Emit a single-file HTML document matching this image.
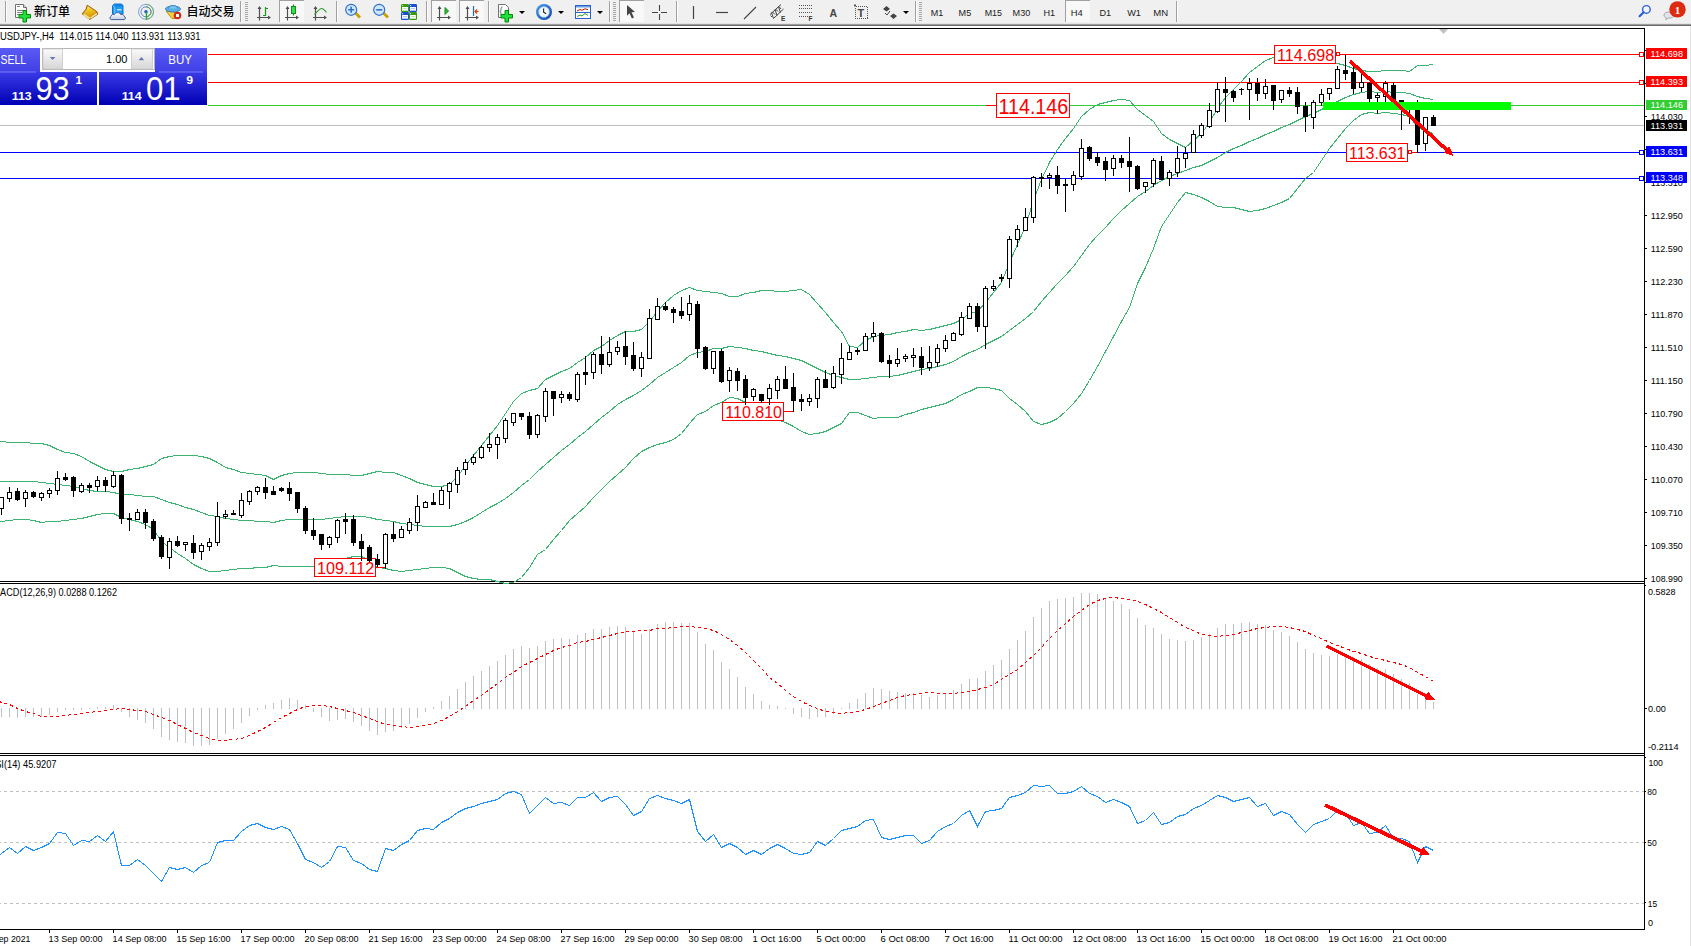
<!DOCTYPE html><html><head><meta charset="utf-8"><title>USDJPY-,H4</title><style>html,body{margin:0;padding:0;background:#fff;overflow:hidden;width:1691px;height:946px}svg{display:block}text{font-family:"Liberation Sans","Noto Sans CJK SC",sans-serif}</style></head><body>
<svg width="1691" height="946" viewBox="0 0 1691 946">
<rect x="0" y="0" width="1691" height="946" fill="#fff"/>
<rect x="0" y="0" width="1691" height="24" fill="#f0f0f0"/><rect x="0" y="23" width="1691" height="1" fill="#e4e4e4"/><rect x="0" y="24" width="1691" height="1" fill="#9c9c9c"/><rect x="0" y="25" width="1691" height="1" fill="#6a6a6a"/><rect x="5" y="1" width="1" height="21" fill="#a0a0a0"/><rect x="6" y="1" width="1" height="21" fill="#fff"/><path d="M15.5 4.5h8l3 3v10h-11z" fill="#fff" stroke="#707070"/><path d="M23.5 4.5v3h3" fill="#e0e0e0" stroke="#707070"/><path d="M17 6.5h3M17 10.5h6M17 12.5h5M17 14.5h2" stroke="#808080"/><path d="M23 10.5h3.5v4h4v3.5h-4v4h-3.5v-4h-4v-3.5h4z" fill="#20e040" stroke="#008a00"/><text x="34" y="15.5" font-size="12" font-weight="500" fill="#000" style="font-family:"Noto Sans CJK SC","WenQuanYi Zen Hei",sans-serif">新订单</text><defs><linearGradient id="bk" x1="0.3" y1="0" x2="0.6" y2="1"><stop offset="0" stop-color="#fff0a0"/><stop offset="0.35" stop-color="#f2c820"/><stop offset="1" stop-color="#d89c08"/></linearGradient><linearGradient id="cl" x1="0" y1="0" x2="0" y2="1"><stop offset="0" stop-color="#ffffff"/><stop offset="1" stop-color="#c8d0e0"/></linearGradient></defs><path d="M87.2 5.2L96.8 11.6L97.8 14.2L89.8 19.4L82.2 13.9L86.2 9Z" fill="#d8a010" stroke="#985808" stroke-width="1" stroke-linejoin="round"/><path d="M87.8 6.2L95.8 11.6L89.6 16.3L84 12.6L86.9 9.2Z" fill="url(#bk)"/><path d="M83.6 14.2L89.6 18.4" stroke="#f7df98" stroke-width="1.8"/><path d="M90.6 18.1L96.9 13.6" stroke="#f1e4b4" stroke-width="1.3"/><path d="M112.5 5.5l2-1.5h7l1.5 1.5v8.5h-10.5z" fill="#1a9af2" stroke="#0c72cc"/><path d="M112.8 5.6l2 2.2v6" fill="none" stroke="#8ccaf8" stroke-width="1"/><path d="M115 5.6h7.5" stroke="#0c72cc" stroke-width="0.8"/><path d="M117 9.8h4.5" stroke="#e8f4ff" stroke-width="1.2"/><path d="M111.3 19.6c-1.6 0-1.8-2.8-.2-3.3c.2-1.8 2-2.4 3.3-1.6c.8-2.6 5.2-2.9 6.3-.1c1.6-.6 3.3.4 3.4 1.7c1.6.3 1.8 2.9.1 3.3z" fill="url(#cl)" stroke="#3e5f9e" stroke-width="1"/><g fill="none" stroke-width="1"><circle cx="146" cy="11.8" r="7.5" stroke="#7f9fd8"/><circle cx="146" cy="11.8" r="5" stroke="#5f86d0"/><path d="M146 4.3a7.5 7.5 0 0 1 0 15" stroke="#6fb070"/><path d="M146 6.8a5 5 0 0 1 0 10" stroke="#5aa05a"/></g><circle cx="146" cy="11.8" r="1.8" fill="#2a5cc8"/><path d="M146.5 12v7.5" stroke="#22aa22" stroke-width="1.4"/><path d="M166 11l6 7.5h5l2-6z" fill="#f3d040" stroke="#c89000"/><ellipse cx="173" cy="9" rx="7.5" ry="3" fill="#5bb0e8" stroke="#3a86c0"/><path d="M168.5 8.5c0-4 9-4 9 0" fill="#7cc6f2" stroke="#3a86c0"/><circle cx="177.5" cy="15.5" r="3.8" fill="#d42a14"/><rect x="176" y="14" width="3" height="3" fill="#fff"/><text x="186.5" y="15.5" font-size="12" font-weight="500" fill="#000" style="font-family:"Noto Sans CJK SC","WenQuanYi Zen Hei",sans-serif">自动交易</text><rect x="240" y="1" width="1" height="21" fill="#a0a0a0"/><rect x="241" y="1" width="1" height="21" fill="#fff"/><rect x="245" y="2" width="3" height="1" fill="#a8a8a8"/><rect x="245" y="4" width="3" height="1" fill="#a8a8a8"/><rect x="245" y="6" width="3" height="1" fill="#a8a8a8"/><rect x="245" y="8" width="3" height="1" fill="#a8a8a8"/><rect x="245" y="10" width="3" height="1" fill="#a8a8a8"/><rect x="245" y="12" width="3" height="1" fill="#a8a8a8"/><rect x="245" y="14" width="3" height="1" fill="#a8a8a8"/><rect x="245" y="16" width="3" height="1" fill="#a8a8a8"/><rect x="245" y="18" width="3" height="1" fill="#a8a8a8"/><rect x="245" y="20" width="3" height="1" fill="#a8a8a8"/><g stroke="#505050" stroke-width="1.2" fill="none"><path d="M259.5 20.5V7.0 M257.0 17.5H270.0"/></g><path d="M259.5 6.0l-2 3h4z M271.0 17.5l-3 -2v4z" fill="#505050"/><path d="M265.5 7v9M263 15.5h2.5M265.5 8.5h2.5" stroke="#1a9a1a" stroke-width="1.2" fill="none"/><rect x="279" y="0" width="25" height="22" fill="#f8f8f8"/><rect x="279" y="0" width="1" height="22" fill="#a0a0a0"/><rect x="279" y="0" width="25" height="1" fill="#a0a0a0"/><g stroke="#505050" stroke-width="1.2" fill="none"><path d="M287.5 20.5V7.0 M285.0 17.5H298.0"/></g><path d="M287.5 6.0l-2 3h4z M299.0 17.5l-3 -2v4z" fill="#505050"/><path d="M293.5 4.5v11" stroke="#1a8a1a" stroke-width="1.2"/><rect x="291.5" y="6.5" width="4" height="7" fill="#30e050" stroke="#1a8a1a"/><g stroke="#505050" stroke-width="1.2" fill="none"><path d="M315.5 20.5V7.0 M313.0 17.5H326.0"/></g><path d="M315.5 6.0l-2 3h4z M327.0 17.5l-3 -2v4z" fill="#505050"/><path d="M314.5 14.5c3-3 5-6 7-6c2 0 3 2 5 3.8" fill="none" stroke="#2a9a2a" stroke-width="1.1"/><rect x="336" y="1" width="1" height="21" fill="#a0a0a0"/><rect x="337" y="1" width="1" height="21" fill="#fff"/><path d="M355.0 12.5l5 5" stroke="#c8a000" stroke-width="2.8"/><circle cx="351.2" cy="9.8" r="5.5" fill="#cfe6fb" stroke="#2f72cc" stroke-width="1.2"/><path d="M348.2 9.8h6M351.2 6.8v6" stroke="#2f72cc" stroke-width="1.6"/><path d="M383.0 12.5l5 5" stroke="#c8a000" stroke-width="2.8"/><circle cx="379.2" cy="9.8" r="5.5" fill="#cfe6fb" stroke="#2f72cc" stroke-width="1.2"/><path d="M376.2 9.8h6" stroke="#2f72cc" stroke-width="1.6"/><rect x="401" y="4" width="8" height="8" rx="1.2" fill="#3a9a10"/><circle cx="402.6" cy="5.6" r="0.6" fill="#e8f0ff"/><rect x="402.1" y="7.0" width="5.8" height="3.8" fill="#fff"/><path d="M403.2 8.6h3.6" stroke="#a8d890" stroke-width="0.8"/><path d="M403.2 10.4h3.6" stroke="#a8d890" stroke-width="0.6"/><rect x="409" y="4" width="8" height="8" rx="1.2" fill="#1a4fd0"/><circle cx="410.6" cy="5.6" r="0.6" fill="#e8f0ff"/><rect x="410.1" y="7.0" width="5.8" height="3.8" fill="#fff"/><path d="M411.2 8.6h3.6" stroke="#90a8e8" stroke-width="0.8"/><path d="M411.2 10.4h3.6" stroke="#90a8e8" stroke-width="0.6"/><rect x="401" y="12" width="8" height="8" rx="1.2" fill="#1a4fd0"/><circle cx="402.6" cy="13.6" r="0.6" fill="#e8f0ff"/><rect x="402.1" y="15.0" width="5.8" height="3.8" fill="#fff"/><path d="M403.2 16.6h3.6" stroke="#90a8e8" stroke-width="0.8"/><path d="M403.2 18.4h3.6" stroke="#90a8e8" stroke-width="0.6"/><rect x="409" y="12" width="8" height="8" rx="1.2" fill="#3a9a10"/><circle cx="410.6" cy="13.6" r="0.6" fill="#e8f0ff"/><rect x="410.1" y="15.0" width="5.8" height="3.8" fill="#fff"/><path d="M411.2 16.6h3.6" stroke="#a8d890" stroke-width="0.8"/><path d="M411.2 18.4h3.6" stroke="#a8d890" stroke-width="0.6"/><rect x="426" y="1" width="1" height="21" fill="#a0a0a0"/><rect x="427" y="1" width="1" height="21" fill="#fff"/><rect x="431" y="0" width="25" height="22" fill="#f8f8f8"/><rect x="431" y="0" width="1" height="22" fill="#a0a0a0"/><rect x="431" y="0" width="25" height="1" fill="#a0a0a0"/><g stroke="#505050" stroke-width="1.2" fill="none"><path d="M439.5 20.5V7.0 M437.0 17.5H450.0"/></g><path d="M439.5 6.0l-2 3h4z M451.0 17.5l-3 -2v4z" fill="#505050"/><path d="M445 7.5l3.5 3.5l-3.5 3.5z" fill="#2eb82e" stroke="#1a8a1a"/><rect x="459" y="0" width="25" height="22" fill="#f8f8f8"/><rect x="459" y="0" width="1" height="22" fill="#a0a0a0"/><rect x="459" y="0" width="25" height="1" fill="#a0a0a0"/><g stroke="#505050" stroke-width="1.2" fill="none"><path d="M467.5 20.5V7.0 M465.0 17.5H478.0"/></g><path d="M467.5 6.0l-2 3h4z M479.0 17.5l-3 -2v4z" fill="#505050"/><path d="M473.5 6v10" stroke="#1e6fb0" stroke-width="1.2"/><path d="M474.5 11.5h4M475 11.5l2-2M475 11.5l2 2" stroke="#e04000" stroke-width="1.2"/><rect x="488" y="1" width="1" height="21" fill="#a0a0a0"/><rect x="489" y="1" width="1" height="21" fill="#fff"/><path d="M498.5 4.5h7l3 3v10h-10z" fill="#fff" stroke="#707070"/><path d="M502.5 7c-1.5 0-1.5 1-1.5 2.5s-.8 2-1.2 2c.4 0 1.2.5 1.2 2s0 2.5 1.5 2.5" stroke="#555" fill="none" stroke-width="0.9"/><path d="M505 10.5h3.5v4h4v3.5h-4v4h-3.5v-4h-4v-3.5h4z" fill="#20e040" stroke="#008a00"/><path d="M519 11h6l-3 3z" fill="#000"/><defs><linearGradient id="ck" x1="0" y1="0" x2="1" y2="1"><stop offset="0" stop-color="#4aa0f0"/><stop offset="1" stop-color="#0a3fa8"/></linearGradient></defs><circle cx="544" cy="12" r="8" fill="url(#ck)"/><circle cx="544" cy="12" r="5.4" fill="#f4f8ff" stroke="#9cc0ec" stroke-width="0.6"/><path d="M544 7.6v.8M544 15.6v.8M548.4 12h-.8M539.6 12h.8" stroke="#8aa" stroke-width="0.7"/><path d="M543.6 8.6v3.6l2.6 1.6" stroke="#222" stroke-width="1.1" fill="none"/><path d="M558 11h6l-3 3z" fill="#000"/><rect x="575.5" y="5.5" width="15" height="13" fill="#fff" stroke="#2a60c8"/><rect x="576" y="6" width="14" height="1.5" fill="#6aa0e8"/><path d="M576 12.5h14" stroke="#2a60c8"/><path d="M577 11l3-1.5l2 .8l3-1.5l3 .8" stroke="#b02000" fill="none"/><path d="M577 16.5l3-1.5l2 1l3-2.5l3 2" stroke="#20a020" fill="none"/><path d="M597 11h6l-3 3z" fill="#000"/><rect x="609" y="1" width="1" height="21" fill="#a0a0a0"/><rect x="610" y="1" width="1" height="21" fill="#fff"/><rect x="613" y="2" width="3" height="1" fill="#a8a8a8"/><rect x="613" y="4" width="3" height="1" fill="#a8a8a8"/><rect x="613" y="6" width="3" height="1" fill="#a8a8a8"/><rect x="613" y="8" width="3" height="1" fill="#a8a8a8"/><rect x="613" y="10" width="3" height="1" fill="#a8a8a8"/><rect x="613" y="12" width="3" height="1" fill="#a8a8a8"/><rect x="613" y="14" width="3" height="1" fill="#a8a8a8"/><rect x="613" y="16" width="3" height="1" fill="#a8a8a8"/><rect x="613" y="18" width="3" height="1" fill="#a8a8a8"/><rect x="613" y="20" width="3" height="1" fill="#a8a8a8"/><rect x="619" y="0" width="25" height="22" fill="#f8f8f8"/><rect x="619" y="0" width="1" height="22" fill="#a0a0a0"/><rect x="619" y="0" width="25" height="1" fill="#a0a0a0"/><path d="M627 5l8 7l-3.5 .3l2.4 5.2l-2 1l-2.4-5.2l-2.5 2.5z" fill="#444"/><path d="M652 12.5h6M661 12.5h6M659.5 5v6M659.5 14v6" stroke="#444" stroke-width="1.1"/><rect x="676" y="1" width="1" height="21" fill="#a0a0a0"/><rect x="677" y="1" width="1" height="21" fill="#fff"/><path d="M693.5 6v13" stroke="#444" stroke-width="1.2"/><path d="M716 12.5h12" stroke="#444" stroke-width="1.2"/><path d="M744 19l12-12" stroke="#444" stroke-width="1.1"/><path d="M770 14.5l11-10M773.5 18.5l10-9.5M772 17l-1.5-1.5M775 14.5l-2.5-2.5M778 11.5l-2.5-2.5M781 9l-2-2.5M771.5 12.5l2 6M775 9.5l2 6M778.5 7l2 5.5" stroke="#444" stroke-width="1" fill="none"/><text x="781" y="20.5" font-size="6.5" font-weight="bold" fill="#333">E</text><path d="M799 5.5h13M799 8.5h13M799 12.5h13M799 16.5h10" stroke="#555" stroke-dasharray="1 1" fill="none" shape-rendering="crispEdges"/><text x="808.5" y="20.5" font-size="6.5" font-weight="bold" fill="#333">F</text><text x="829.5" y="17" font-size="10.5" font-weight="bold" fill="#444">A</text><rect x="855.5" y="6.5" width="12" height="12" fill="none" stroke="#555" stroke-dasharray="1 1" shape-rendering="crispEdges"/><rect x="854" y="4.5" width="2" height="2" fill="#555"/><text x="857.5" y="17" font-size="11" font-weight="bold" fill="#444">T</text><path d="M883 9l3.5-3l3.5 3l-3.5 2.5z M890 16l3.5-2.5l3.5 2.5l-3.5 3z" fill="#444"/><path d="M885 13l2 2l3-4" stroke="#444" fill="none"/><path d="M903 11h6l-3 3z" fill="#000"/><rect x="915" y="1" width="1" height="21" fill="#a0a0a0"/><rect x="916" y="1" width="1" height="21" fill="#fff"/><rect x="919" y="2" width="3" height="1" fill="#a8a8a8"/><rect x="919" y="4" width="3" height="1" fill="#a8a8a8"/><rect x="919" y="6" width="3" height="1" fill="#a8a8a8"/><rect x="919" y="8" width="3" height="1" fill="#a8a8a8"/><rect x="919" y="10" width="3" height="1" fill="#a8a8a8"/><rect x="919" y="12" width="3" height="1" fill="#a8a8a8"/><rect x="919" y="14" width="3" height="1" fill="#a8a8a8"/><rect x="919" y="16" width="3" height="1" fill="#a8a8a8"/><rect x="919" y="18" width="3" height="1" fill="#a8a8a8"/><rect x="919" y="20" width="3" height="1" fill="#a8a8a8"/><rect x="1065" y="0" width="25" height="22" fill="#f8f8f8"/><rect x="1065" y="0" width="1" height="22" fill="#a0a0a0"/><rect x="1065" y="0" width="25" height="1" fill="#a0a0a0"/><text x="930.8" y="16" font-size="9.4" fill="#222" textLength="12.5" lengthAdjust="spacingAndGlyphs">M1</text><text x="958.6" y="16" font-size="9.4" fill="#222" textLength="12.6" lengthAdjust="spacingAndGlyphs">M5</text><text x="984.7" y="16" font-size="9.4" fill="#222" textLength="17.3" lengthAdjust="spacingAndGlyphs">M15</text><text x="1012.6" y="16" font-size="9.4" fill="#222" textLength="17.7" lengthAdjust="spacingAndGlyphs">M30</text><text x="1043.4" y="16" font-size="9.4" fill="#222" textLength="11.7" lengthAdjust="spacingAndGlyphs">H1</text><text x="1070.8" y="16" font-size="9.4" fill="#222" textLength="12.0" lengthAdjust="spacingAndGlyphs">H4</text><text x="1099.5" y="16" font-size="9.4" fill="#222" textLength="11.7" lengthAdjust="spacingAndGlyphs">D1</text><text x="1127.2" y="16" font-size="9.4" fill="#222" textLength="13.8" lengthAdjust="spacingAndGlyphs">W1</text><text x="1153.3" y="16" font-size="9.4" fill="#222" textLength="14.9" lengthAdjust="spacingAndGlyphs">MN</text><rect x="1176" y="1" width="1" height="21" fill="#a0a0a0"/><rect x="1177" y="1" width="1" height="21" fill="#fff"/><circle cx="1646.4" cy="9.4" r="3.8" fill="#f4f6ff" stroke="#2a5fd8" stroke-width="1.4"/><path d="M1643.6 12.2l-4 4" stroke="#2a5fd8" stroke-width="2.2" stroke-linecap="round"/><path d="M1664 15c0-4 10-4 10 0c0 2.5-3 3.2-6 3l-2 2v-2.3c-1.5-.5-2-1.5-2-2.7z" fill="#e2e4ee" stroke="#a8a8a8"/><circle cx="1677.5" cy="9.4" r="8.2" fill="#dd2a10"/><text x="1677.5" y="14" font-size="11" font-weight="bold" fill="#fff" text-anchor="middle" style="font-family:'Liberation Serif',serif">1</text>
<g shape-rendering="crispEdges" fill="none" stroke="#000" stroke-width="1">
<path d="M0 28.5H1644.5V929.5H0M0 581.5H1644.5M0 583.5H1644.5M0 753.5H1644.5M0 755.5H1644.5"/>
</g>
<rect x="1690" y="26" width="1" height="920" fill="#e3e3e3"/>
<g shape-rendering="crispEdges" stroke-width="1" fill="none">
<path d="M0 54.5H1644" stroke="#f00"/>
<path d="M0 82.5H1644" stroke="#f00"/>
<path d="M0 105.5H986" stroke="#32cd32"/><path d="M1070 105.5H1644" stroke="#32cd32"/><path d="M986 105.5H996" stroke="#f00"/>
<path d="M0 125.5H1644" stroke="#c0c0c0"/>
<path d="M0 152.5H1644" stroke="#00f"/>
<path d="M0 178.5H1644" stroke="#00f"/>
</g>
<g shape-rendering="crispEdges">
<polyline points="-6.5,440.5 1.5,441.5 9.5,442.5 17.5,442.5 25.5,442.5 33.5,443.5 41.5,443.5 49.5,445.5 57.5,449.5 65.5,452.5 73.5,453.5 81.5,456.5 89.5,461.5 97.5,465.5 105.5,469.5 113.5,471.5 121.5,471.5 129.5,469.5 137.5,468.5 145.5,466.5 153.5,464.5 161.5,458.5 169.5,456.5 177.5,455.5 185.5,455.5 193.5,455.5 201.5,456.5 209.5,458.5 217.5,462.5 225.5,467.5 233.5,469.5 241.5,472.5 249.5,473.5 257.5,474.5 265.5,475.5 273.5,479.5 281.5,475.5 289.5,473.5 297.5,472.5 305.5,472.5 313.5,472.5 321.5,473.5 329.5,474.5 337.5,474.5 345.5,474.5 353.5,475.5 361.5,475.5 369.5,473.5 377.5,471.5 385.5,472.5 393.5,472.5 401.5,475.5 409.5,478.5 417.5,482.5 425.5,484.5 433.5,486.5 441.5,486.5 449.5,484.5 457.5,476.5 465.5,465.5 473.5,455.5 481.5,445.5 489.5,435.5 497.5,425.5 505.5,413.5 513.5,401.5 521.5,393.5 529.5,390.5 537.5,388.5 545.5,379.5 553.5,375.5 561.5,371.5 569.5,368.5 577.5,362.5 585.5,357.5 593.5,350.5 601.5,346.5 609.5,340.5 617.5,335.5 625.5,331.5 633.5,331.5 641.5,329.5 649.5,321.5 657.5,311.5 665.5,302.5 673.5,295.5 681.5,290.5 689.5,287.5 697.5,290.5 705.5,291.5 713.5,292.5 721.5,293.5 729.5,296.5 737.5,296.5 745.5,293.5 753.5,292.5 761.5,290.5 769.5,290.5 777.5,291.5 785.5,291.5 793.5,290.5 801.5,289.5 809.5,294.5 817.5,303.5 825.5,312.5 833.5,322.5 841.5,331.5 849.5,346.5 857.5,347.5 865.5,340.5 873.5,336.5 881.5,335.5 889.5,334.5 897.5,332.5 905.5,331.5 913.5,329.5 921.5,330.5 929.5,329.5 937.5,327.5 945.5,325.5 953.5,323.5 961.5,319.5 969.5,313.5 977.5,311.5 985.5,302.5 993.5,292.5 1001.5,282.5 1009.5,262.5 1017.5,244.5 1025.5,226.5 1033.5,200.5 1041.5,179.5 1049.5,162.5 1057.5,149.5 1065.5,138.5 1073.5,128.5 1081.5,116.5 1089.5,109.5 1097.5,104.5 1105.5,102.5 1113.5,100.5 1121.5,99.5 1129.5,100.5 1137.5,109.5 1145.5,115.5 1153.5,121.5 1161.5,133.5 1169.5,139.5 1177.5,143.5 1185.5,147.5 1193.5,140.5 1201.5,133.5 1209.5,122.5 1217.5,108.5 1225.5,97.5 1233.5,89.5 1241.5,81.5 1249.5,72.5 1257.5,66.5 1265.5,60.5 1273.5,57.5 1281.5,52.5 1289.5,50.5 1297.5,51.5 1305.5,54.5 1313.5,55.5 1321.5,58.5 1329.5,62.5 1337.5,63.5 1345.5,65.5 1353.5,68.5 1361.5,70.5 1369.5,71.5 1377.5,71.5 1385.5,70.5 1393.5,70.5 1401.5,70.5 1409.5,71.5 1417.5,65.5 1425.5,65.5 1433.5,64.5" fill="none" stroke="#3cb371" stroke-width="1" />
<polyline points="-6.5,481.5 1.5,481.5 9.5,481.5 17.5,481.5 25.5,481.5 33.5,481.5 41.5,482.5 49.5,483.5 57.5,484.5 65.5,485.5 73.5,486.5 81.5,488.5 89.5,490.5 97.5,491.5 105.5,491.5 113.5,492.5 121.5,494.5 129.5,494.5 137.5,495.5 145.5,496.5 153.5,496.5 161.5,499.5 169.5,502.5 177.5,504.5 185.5,507.5 193.5,509.5 201.5,512.5 209.5,515.5 217.5,516.5 225.5,518.5 233.5,519.5 241.5,520.5 249.5,520.5 257.5,521.5 265.5,521.5 273.5,522.5 281.5,520.5 289.5,519.5 297.5,519.5 305.5,519.5 313.5,519.5 321.5,519.5 329.5,518.5 337.5,517.5 345.5,516.5 353.5,516.5 361.5,516.5 369.5,517.5 377.5,519.5 385.5,520.5 393.5,521.5 401.5,523.5 409.5,524.5 417.5,525.5 425.5,526.5 433.5,526.5 441.5,526.5 449.5,526.5 457.5,524.5 465.5,521.5 473.5,517.5 481.5,512.5 489.5,507.5 497.5,503.5 505.5,498.5 513.5,492.5 521.5,485.5 529.5,479.5 537.5,471.5 545.5,464.5 553.5,457.5 561.5,450.5 569.5,444.5 577.5,437.5 585.5,431.5 593.5,424.5 601.5,417.5 609.5,411.5 617.5,404.5 625.5,399.5 633.5,395.5 641.5,390.5 649.5,384.5 657.5,377.5 665.5,372.5 673.5,367.5 681.5,362.5 689.5,355.5 697.5,352.5 705.5,351.5 713.5,348.5 721.5,348.5 729.5,346.5 737.5,347.5 745.5,348.5 753.5,350.5 761.5,351.5 769.5,353.5 777.5,355.5 785.5,356.5 793.5,358.5 801.5,360.5 809.5,364.5 817.5,368.5 825.5,372.5 833.5,375.5 841.5,377.5 849.5,379.5 857.5,379.5 865.5,378.5 873.5,377.5 881.5,376.5 889.5,376.5 897.5,375.5 905.5,373.5 913.5,371.5 921.5,369.5 929.5,368.5 937.5,366.5 945.5,364.5 953.5,361.5 961.5,356.5 969.5,352.5 977.5,349.5 985.5,344.5 993.5,340.5 1001.5,336.5 1009.5,330.5 1017.5,324.5 1025.5,318.5 1033.5,311.5 1041.5,301.5 1049.5,292.5 1057.5,283.5 1065.5,275.5 1073.5,266.5 1081.5,255.5 1089.5,244.5 1097.5,235.5 1105.5,227.5 1113.5,218.5 1121.5,210.5 1129.5,203.5 1137.5,196.5 1145.5,191.5 1153.5,185.5 1161.5,180.5 1169.5,176.5 1177.5,173.5 1185.5,170.5 1193.5,167.5 1201.5,165.5 1209.5,161.5 1217.5,157.5 1225.5,152.5 1233.5,148.5 1241.5,145.5 1249.5,141.5 1257.5,138.5 1265.5,134.5 1273.5,131.5 1281.5,127.5 1289.5,124.5 1297.5,120.5 1305.5,116.5 1313.5,113.5 1321.5,109.5 1329.5,105.5 1337.5,101.5 1345.5,97.5 1353.5,94.5 1361.5,92.5 1369.5,91.5 1377.5,92.5 1385.5,91.5 1393.5,92.5 1401.5,92.5 1409.5,93.5 1417.5,96.5 1425.5,98.5 1433.5,99.5" fill="none" stroke="#3cb371" stroke-width="1" />
<polyline points="-6.5,522.5 1.5,521.5 9.5,520.5 17.5,519.5 25.5,519.5 33.5,520.5 41.5,522.5 49.5,521.5 57.5,521.5 65.5,520.5 73.5,519.5 81.5,518.5 89.5,516.5 97.5,514.5 105.5,513.5 113.5,513.5 121.5,517.5 129.5,519.5 137.5,521.5 145.5,524.5 153.5,529.5 161.5,541.5 169.5,547.5 177.5,553.5 185.5,558.5 193.5,564.5 201.5,568.5 209.5,571.5 217.5,571.5 225.5,570.5 233.5,569.5 241.5,568.5 249.5,568.5 257.5,567.5 265.5,567.5 273.5,565.5 281.5,566.5 289.5,566.5 297.5,566.5 305.5,566.5 313.5,566.5 321.5,564.5 329.5,563.5 337.5,560.5 345.5,558.5 353.5,556.5 361.5,556.5 369.5,560.5 377.5,567.5 385.5,568.5 393.5,570.5 401.5,571.5 409.5,570.5 417.5,569.5 425.5,568.5 433.5,567.5 441.5,567.5 449.5,568.5 457.5,572.5 465.5,576.5 473.5,578.5 481.5,579.5 489.5,579.5 497.5,581.5 505.5,583.5 513.5,582.5 521.5,577.5 529.5,567.5 537.5,554.5 545.5,549.5 553.5,539.5 561.5,530.5 569.5,520.5 577.5,513.5 585.5,506.5 593.5,497.5 601.5,489.5 609.5,481.5 617.5,474.5 625.5,467.5 633.5,458.5 641.5,451.5 649.5,447.5 657.5,444.5 665.5,442.5 673.5,439.5 681.5,433.5 689.5,423.5 697.5,414.5 705.5,411.5 713.5,405.5 721.5,402.5 729.5,397.5 737.5,398.5 745.5,402.5 753.5,407.5 761.5,412.5 769.5,416.5 777.5,419.5 785.5,422.5 793.5,426.5 801.5,431.5 809.5,434.5 817.5,433.5 825.5,431.5 833.5,427.5 841.5,423.5 849.5,412.5 857.5,412.5 865.5,415.5 873.5,418.5 881.5,417.5 889.5,417.5 897.5,417.5 905.5,414.5 913.5,412.5 921.5,409.5 929.5,407.5 937.5,405.5 945.5,403.5 953.5,399.5 961.5,394.5 969.5,391.5 977.5,387.5 985.5,387.5 993.5,388.5 1001.5,390.5 1009.5,398.5 1017.5,404.5 1025.5,411.5 1033.5,421.5 1041.5,424.5 1049.5,422.5 1057.5,418.5 1065.5,411.5 1073.5,403.5 1081.5,393.5 1089.5,380.5 1097.5,366.5 1105.5,351.5 1113.5,336.5 1121.5,321.5 1129.5,307.5 1137.5,283.5 1145.5,267.5 1153.5,248.5 1161.5,226.5 1169.5,214.5 1177.5,202.5 1185.5,192.5 1193.5,194.5 1201.5,197.5 1209.5,201.5 1217.5,206.5 1225.5,207.5 1233.5,207.5 1241.5,209.5 1249.5,211.5 1257.5,210.5 1265.5,208.5 1273.5,205.5 1281.5,202.5 1289.5,198.5 1297.5,188.5 1305.5,178.5 1313.5,172.5 1321.5,160.5 1329.5,148.5 1337.5,138.5 1345.5,128.5 1353.5,120.5 1361.5,114.5 1369.5,112.5 1377.5,113.5 1385.5,112.5 1393.5,113.5 1401.5,114.5 1409.5,116.5 1417.5,127.5 1425.5,130.5 1433.5,133.5" fill="none" stroke="#3cb371" stroke-width="1" />
</g>
<rect x="1274.5" y="45.5" width="61" height="18" fill="#fff" stroke="#f00" stroke-width="1" shape-rendering="crispEdges"/><text x="1277.0" y="61.2" font-size="16.8" fill="#f00" textLength="57.3" lengthAdjust="spacingAndGlyphs">114.698</text><rect x="1336.5" y="52.5" width="3" height="3" fill="#fff" stroke="#f00" shape-rendering="crispEdges"/><path d="M986 105.5H996" shape-rendering="crispEdges" stroke-width="1" fill="none" stroke="#f00"/><rect x="996.5" y="93.5" width="73" height="24" fill="#fff" stroke="#f00" stroke-width="1" shape-rendering="crispEdges"/><text x="998.5" y="114.3" font-size="22.4" fill="#f00" textLength="69.7" lengthAdjust="spacingAndGlyphs">114.146</text><rect x="1346.5" y="143.5" width="61" height="18" fill="#fff" stroke="#f00" stroke-width="1" shape-rendering="crispEdges"/><text x="1349.0" y="159.0" font-size="16.8" fill="#f00" textLength="56.5" lengthAdjust="spacingAndGlyphs">113.631</text><rect x="1408.5" y="150.5" width="2.5" height="3" fill="#fff" stroke="#f00" shape-rendering="crispEdges"/><path d="M1411 152.5H1418" shape-rendering="crispEdges" stroke-width="1" fill="none" stroke="#f00"/><rect x="722.5" y="402.5" width="61" height="18" fill="#fff" stroke="#f00" stroke-width="1" shape-rendering="crispEdges"/><text x="725.3" y="418.0" font-size="16.8" fill="#f00" textLength="56.7" lengthAdjust="spacingAndGlyphs">110.810</text><path d="M784 411.5H794" shape-rendering="crispEdges" stroke-width="1" fill="none" stroke="#f00"/><rect x="314.5" y="558.5" width="61" height="18" fill="#fff" stroke="#f00" stroke-width="1" shape-rendering="crispEdges"/><text x="317.0" y="574.3" font-size="16.8" fill="#f00" textLength="57.2" lengthAdjust="spacingAndGlyphs">109.112</text><path d="M376 567.5H386" shape-rendering="crispEdges" stroke-width="1" fill="none" stroke="#f00"/>
<g shape-rendering="crispEdges">
<path d="M1.5 497V515M9.5 487V502M17.5 488V501M25.5 490V507M33.5 491V498M41.5 492V501M49.5 488V498M57.5 471V495M65.5 473V481M73.5 476V497M81.5 483V493M89.5 483V493M97.5 476V491M105.5 477V492M113.5 471V488M121.5 474V524M129.5 513V531M137.5 509V520M145.5 509V529M153.5 519V541M161.5 535V559M169.5 538V569M177.5 536V547M185.5 542V551M193.5 535V559M201.5 543V560M209.5 538V551M217.5 502V546M225.5 510V519M233.5 510V515M241.5 493V518M249.5 490V505M257.5 486V495M265.5 478V499M273.5 486V495M281.5 487V492M289.5 482V501M297.5 492V513M305.5 506V534M313.5 518V540M321.5 534V550M329.5 536V548M337.5 519V543M345.5 513V534M353.5 515V546M361.5 534V561M369.5 545V562M377.5 554V567M385.5 533V569M393.5 522V542M401.5 526V538M409.5 518V534M417.5 495V531M425.5 501V508M433.5 493V505M441.5 487V505M449.5 482V509M457.5 467V493M465.5 459V475M473.5 454V465M481.5 445V459M489.5 433V452M497.5 434V459M505.5 418V443M513.5 413V426M521.5 413V420M529.5 412V439M537.5 414V438M545.5 388V422M553.5 391V416M561.5 391V403M569.5 392V401M577.5 372V402M585.5 356V385M593.5 352V379M601.5 336V374M609.5 337V367M617.5 341V355M625.5 331V365M633.5 342V371M641.5 352V377M649.5 309V359M657.5 298V320M665.5 302V311M673.5 307V323M681.5 297V319M689.5 295V321M697.5 301V358M705.5 346V370M713.5 351V374M721.5 349V383M729.5 367V392M737.5 368V391M745.5 375V405M753.5 388V401M761.5 394V403M769.5 384V405M777.5 376V399M785.5 366V389M793.5 373V412M801.5 394V411M809.5 394V406M817.5 377V408M825.5 370V388M833.5 366V389M841.5 343V384M849.5 346V360M857.5 348V355M865.5 333V351M873.5 322V342M881.5 332V363M889.5 355V378M897.5 348V367M905.5 354V362M913.5 348V367M921.5 347V375M929.5 346V371M937.5 344V367M945.5 335V352M953.5 332V341M961.5 312V336M969.5 303V319M977.5 303V332M985.5 286V349M993.5 280V291M1001.5 274V282M1009.5 236V288M1017.5 225V247M1025.5 208V231M1033.5 176V223M1041.5 173V187M1049.5 173V189M1057.5 166V194M1065.5 179V212M1073.5 171V191M1081.5 139V180M1089.5 146V161M1097.5 152V166M1105.5 157V181M1113.5 155V176M1121.5 155V168M1129.5 137V192M1137.5 165V190M1145.5 182V193M1153.5 158V187M1161.5 156V180M1169.5 170V186M1177.5 146V177M1185.5 147V168M1193.5 130V153M1201.5 123V138M1209.5 103V128M1217.5 82V113M1225.5 77V122M1233.5 90V102M1241.5 88V95M1249.5 78V120M1257.5 78V101M1265.5 79V99M1273.5 85V110M1281.5 90V103M1289.5 87V97M1297.5 87V114M1305.5 102V132M1313.5 100V129M1321.5 89V106M1329.5 88V100M1337.5 66V89M1345.5 55V80M1353.5 65V94M1361.5 74V92M1369.5 82V103M1377.5 93V114M1385.5 81V102M1393.5 82V103M1401.5 100V130M1409.5 102V124M1417.5 100V153M1425.5 117V151M1433.5 115V126" stroke="#000" stroke-width="1" fill="none"/>
<rect x="-0.5" y="497.5" width="4" height="11" fill="#fff" stroke="#000" stroke-width="1"/>
<rect x="7.5" y="492.5" width="4" height="6" fill="#fff" stroke="#000" stroke-width="1"/>
<rect x="15" y="491" width="5" height="9" fill="#000"/>
<rect x="23.5" y="492.5" width="4" height="6" fill="#fff" stroke="#000" stroke-width="1"/>
<rect x="31" y="492" width="5" height="5" fill="#000"/>
<rect x="39.5" y="493.5" width="4" height="4" fill="#fff" stroke="#000" stroke-width="1"/>
<rect x="47.5" y="490.5" width="4" height="3" fill="#fff" stroke="#000" stroke-width="1"/>
<rect x="55.5" y="478.5" width="4" height="12" fill="#fff" stroke="#000" stroke-width="1"/>
<rect x="63" y="477" width="5" height="3" fill="#000"/>
<rect x="71" y="477" width="5" height="14" fill="#000"/>
<rect x="79.5" y="485.5" width="4" height="6" fill="#fff" stroke="#000" stroke-width="1"/>
<rect x="87" y="485" width="5" height="3" fill="#000"/>
<rect x="95.5" y="480.5" width="4" height="6" fill="#fff" stroke="#000" stroke-width="1"/>
<rect x="103" y="480" width="5" height="6" fill="#000"/>
<rect x="111.5" y="475.5" width="4" height="11" fill="#fff" stroke="#000" stroke-width="1"/>
<rect x="119" y="475" width="5" height="44" fill="#000"/>
<rect x="127" y="518" width="5" height="2" fill="#000"/>
<rect x="135.5" y="512.5" width="4" height="7" fill="#fff" stroke="#000" stroke-width="1"/>
<rect x="143" y="512" width="5" height="11" fill="#000"/>
<rect x="151" y="521" width="5" height="18" fill="#000"/>
<rect x="159" y="537" width="5" height="20" fill="#000"/>
<rect x="167.5" y="541.5" width="4" height="16" fill="#fff" stroke="#000" stroke-width="1"/>
<rect x="175" y="541" width="5" height="5" fill="#000"/>
<rect x="183.5" y="542.5" width="4" height="2" fill="#fff" stroke="#000" stroke-width="1"/>
<rect x="191" y="543" width="5" height="10" fill="#000"/>
<rect x="199.5" y="545.5" width="4" height="6" fill="#fff" stroke="#000" stroke-width="1"/>
<rect x="207.5" y="542.5" width="4" height="4" fill="#fff" stroke="#000" stroke-width="1"/>
<rect x="215.5" y="516.5" width="4" height="26" fill="#fff" stroke="#000" stroke-width="1"/>
<rect x="223.5" y="514.5" width="4" height="2" fill="#fff" stroke="#000" stroke-width="1"/>
<rect x="231" y="513" width="5" height="2" fill="#000"/>
<rect x="239.5" y="500.5" width="4" height="15" fill="#fff" stroke="#000" stroke-width="1"/>
<rect x="247.5" y="491.5" width="4" height="10" fill="#fff" stroke="#000" stroke-width="1"/>
<rect x="255.5" y="487.5" width="4" height="4" fill="#fff" stroke="#000" stroke-width="1"/>
<rect x="263" y="487" width="5" height="6" fill="#000"/>
<rect x="271" y="491" width="5" height="4" fill="#000"/>
<rect x="279" y="488" width="5" height="3" fill="#000"/>
<rect x="287" y="488" width="5" height="6" fill="#000"/>
<rect x="295" y="492" width="5" height="17" fill="#000"/>
<rect x="303" y="508" width="5" height="23" fill="#000"/>
<rect x="311" y="530" width="5" height="6" fill="#000"/>
<rect x="319" y="534" width="5" height="11" fill="#000"/>
<rect x="327.5" y="537.5" width="4" height="7" fill="#fff" stroke="#000" stroke-width="1"/>
<rect x="335.5" y="520.5" width="4" height="17" fill="#fff" stroke="#000" stroke-width="1"/>
<rect x="343" y="519" width="5" height="3" fill="#000"/>
<rect x="351" y="519" width="5" height="24" fill="#000"/>
<rect x="359" y="541" width="5" height="8" fill="#000"/>
<rect x="367" y="547" width="5" height="14" fill="#000"/>
<rect x="375" y="559" width="5" height="6" fill="#000"/>
<rect x="383.5" y="534.5" width="4" height="29" fill="#fff" stroke="#000" stroke-width="1"/>
<rect x="391" y="534" width="5" height="5" fill="#000"/>
<rect x="399.5" y="529.5" width="4" height="8" fill="#fff" stroke="#000" stroke-width="1"/>
<rect x="407.5" y="522.5" width="4" height="8" fill="#fff" stroke="#000" stroke-width="1"/>
<rect x="415.5" y="506.5" width="4" height="16" fill="#fff" stroke="#000" stroke-width="1"/>
<rect x="423.5" y="502.5" width="4" height="5" fill="#fff" stroke="#000" stroke-width="1"/>
<rect x="431" y="502" width="5" height="3" fill="#000"/>
<rect x="439.5" y="490.5" width="4" height="14" fill="#fff" stroke="#000" stroke-width="1"/>
<rect x="447.5" y="483.5" width="4" height="8" fill="#fff" stroke="#000" stroke-width="1"/>
<rect x="455.5" y="470.5" width="4" height="14" fill="#fff" stroke="#000" stroke-width="1"/>
<rect x="463.5" y="462.5" width="4" height="7" fill="#fff" stroke="#000" stroke-width="1"/>
<rect x="471.5" y="457.5" width="4" height="5" fill="#fff" stroke="#000" stroke-width="1"/>
<rect x="479.5" y="447.5" width="4" height="10" fill="#fff" stroke="#000" stroke-width="1"/>
<rect x="487.5" y="444.5" width="4" height="3" fill="#fff" stroke="#000" stroke-width="1"/>
<rect x="495.5" y="437.5" width="4" height="7" fill="#fff" stroke="#000" stroke-width="1"/>
<rect x="503.5" y="420.5" width="4" height="18" fill="#fff" stroke="#000" stroke-width="1"/>
<rect x="511.5" y="413.5" width="4" height="9" fill="#fff" stroke="#000" stroke-width="1"/>
<rect x="519" y="413" width="5" height="4" fill="#000"/>
<rect x="527" y="416" width="5" height="19" fill="#000"/>
<rect x="535.5" y="415.5" width="4" height="19" fill="#fff" stroke="#000" stroke-width="1"/>
<rect x="543.5" y="391.5" width="4" height="25" fill="#fff" stroke="#000" stroke-width="1"/>
<rect x="551" y="391" width="5" height="8" fill="#000"/>
<rect x="559.5" y="394.5" width="4" height="3" fill="#fff" stroke="#000" stroke-width="1"/>
<rect x="567" y="394" width="5" height="5" fill="#000"/>
<rect x="575.5" y="374.5" width="4" height="25" fill="#fff" stroke="#000" stroke-width="1"/>
<rect x="583" y="372" width="5" height="3" fill="#000"/>
<rect x="591.5" y="354.5" width="4" height="18" fill="#fff" stroke="#000" stroke-width="1"/>
<rect x="599" y="354" width="5" height="11" fill="#000"/>
<rect x="607.5" y="352.5" width="4" height="12" fill="#fff" stroke="#000" stroke-width="1"/>
<rect x="615.5" y="347.5" width="4" height="4" fill="#fff" stroke="#000" stroke-width="1"/>
<rect x="623" y="346" width="5" height="11" fill="#000"/>
<rect x="631" y="355" width="5" height="14" fill="#000"/>
<rect x="639.5" y="357.5" width="4" height="11" fill="#fff" stroke="#000" stroke-width="1"/>
<rect x="647.5" y="318.5" width="4" height="40" fill="#fff" stroke="#000" stroke-width="1"/>
<rect x="655.5" y="306.5" width="4" height="13" fill="#fff" stroke="#000" stroke-width="1"/>
<rect x="663" y="306" width="5" height="4" fill="#000"/>
<rect x="671" y="309" width="5" height="4" fill="#000"/>
<rect x="679" y="311" width="5" height="5" fill="#000"/>
<rect x="687.5" y="303.5" width="4" height="11" fill="#fff" stroke="#000" stroke-width="1"/>
<rect x="695" y="304" width="5" height="45" fill="#000"/>
<rect x="703" y="347" width="5" height="22" fill="#000"/>
<rect x="711.5" y="351.5" width="4" height="17" fill="#fff" stroke="#000" stroke-width="1"/>
<rect x="719" y="351" width="5" height="31" fill="#000"/>
<rect x="727.5" y="370.5" width="4" height="10" fill="#fff" stroke="#000" stroke-width="1"/>
<rect x="735" y="371" width="5" height="10" fill="#000"/>
<rect x="743" y="379" width="5" height="19" fill="#000"/>
<rect x="751.5" y="389.5" width="4" height="7" fill="#fff" stroke="#000" stroke-width="1"/>
<rect x="759" y="394" width="5" height="7" fill="#000"/>
<rect x="767.5" y="388.5" width="4" height="10" fill="#fff" stroke="#000" stroke-width="1"/>
<rect x="775.5" y="379.5" width="4" height="11" fill="#fff" stroke="#000" stroke-width="1"/>
<rect x="783" y="379" width="5" height="10" fill="#000"/>
<rect x="791" y="387" width="5" height="14" fill="#000"/>
<rect x="799" y="399" width="5" height="3" fill="#000"/>
<rect x="807.5" y="398.5" width="4" height="3" fill="#fff" stroke="#000" stroke-width="1"/>
<rect x="815.5" y="379.5" width="4" height="19" fill="#fff" stroke="#000" stroke-width="1"/>
<rect x="823" y="379" width="5" height="9" fill="#000"/>
<rect x="831.5" y="373.5" width="4" height="14" fill="#fff" stroke="#000" stroke-width="1"/>
<rect x="839.5" y="358.5" width="4" height="16" fill="#fff" stroke="#000" stroke-width="1"/>
<rect x="847.5" y="352.5" width="4" height="7" fill="#fff" stroke="#000" stroke-width="1"/>
<rect x="855" y="350" width="5" height="2" fill="#000"/>
<rect x="863.5" y="336.5" width="4" height="14" fill="#fff" stroke="#000" stroke-width="1"/>
<rect x="871.5" y="333.5" width="4" height="3" fill="#fff" stroke="#000" stroke-width="1"/>
<rect x="879" y="333" width="5" height="29" fill="#000"/>
<rect x="887" y="360" width="5" height="4" fill="#000"/>
<rect x="895.5" y="359.5" width="4" height="4" fill="#fff" stroke="#000" stroke-width="1"/>
<rect x="903.5" y="356.5" width="4" height="2" fill="#fff" stroke="#000" stroke-width="1"/>
<rect x="911.5" y="355.5" width="4" height="2" fill="#fff" stroke="#000" stroke-width="1"/>
<rect x="919" y="356" width="5" height="12" fill="#000"/>
<rect x="927.5" y="362.5" width="4" height="5" fill="#fff" stroke="#000" stroke-width="1"/>
<rect x="935.5" y="348.5" width="4" height="14" fill="#fff" stroke="#000" stroke-width="1"/>
<rect x="943.5" y="340.5" width="4" height="8" fill="#fff" stroke="#000" stroke-width="1"/>
<rect x="951.5" y="333.5" width="4" height="7" fill="#fff" stroke="#000" stroke-width="1"/>
<rect x="959.5" y="317.5" width="4" height="17" fill="#fff" stroke="#000" stroke-width="1"/>
<rect x="967.5" y="306.5" width="4" height="12" fill="#fff" stroke="#000" stroke-width="1"/>
<rect x="975" y="306" width="5" height="21" fill="#000"/>
<rect x="983.5" y="288.5" width="4" height="38" fill="#fff" stroke="#000" stroke-width="1"/>
<rect x="991.5" y="286.5" width="4" height="2" fill="#fff" stroke="#000" stroke-width="1"/>
<rect x="999" y="277" width="5" height="2" fill="#000"/>
<rect x="1007.5" y="239.5" width="4" height="39" fill="#fff" stroke="#000" stroke-width="1"/>
<rect x="1015.5" y="229.5" width="4" height="10" fill="#fff" stroke="#000" stroke-width="1"/>
<rect x="1023.5" y="217.5" width="4" height="13" fill="#fff" stroke="#000" stroke-width="1"/>
<rect x="1031.5" y="177.5" width="4" height="40" fill="#fff" stroke="#000" stroke-width="1"/>
<rect x="1039" y="177" width="5" height="2" fill="#000"/>
<rect x="1047.5" y="175.5" width="4" height="2" fill="#fff" stroke="#000" stroke-width="1"/>
<rect x="1055" y="175" width="5" height="11" fill="#000"/>
<rect x="1063" y="184" width="5" height="2" fill="#000"/>
<rect x="1071.5" y="175.5" width="4" height="9" fill="#fff" stroke="#000" stroke-width="1"/>
<rect x="1079.5" y="148.5" width="4" height="28" fill="#fff" stroke="#000" stroke-width="1"/>
<rect x="1087" y="147" width="5" height="12" fill="#000"/>
<rect x="1095" y="157" width="5" height="6" fill="#000"/>
<rect x="1103" y="161" width="5" height="9" fill="#000"/>
<rect x="1111.5" y="158.5" width="4" height="10" fill="#fff" stroke="#000" stroke-width="1"/>
<rect x="1119" y="158" width="5" height="5" fill="#000"/>
<rect x="1127" y="161" width="5" height="6" fill="#000"/>
<rect x="1135" y="166" width="5" height="23" fill="#000"/>
<rect x="1143.5" y="182.5" width="4" height="4" fill="#fff" stroke="#000" stroke-width="1"/>
<rect x="1151.5" y="160.5" width="4" height="23" fill="#fff" stroke="#000" stroke-width="1"/>
<rect x="1159" y="161" width="5" height="19" fill="#000"/>
<rect x="1167.5" y="172.5" width="4" height="6" fill="#fff" stroke="#000" stroke-width="1"/>
<rect x="1175.5" y="158.5" width="4" height="14" fill="#fff" stroke="#000" stroke-width="1"/>
<rect x="1183.5" y="153.5" width="4" height="5" fill="#fff" stroke="#000" stroke-width="1"/>
<rect x="1191.5" y="134.5" width="4" height="18" fill="#fff" stroke="#000" stroke-width="1"/>
<rect x="1199.5" y="125.5" width="4" height="10" fill="#fff" stroke="#000" stroke-width="1"/>
<rect x="1207.5" y="110.5" width="4" height="16" fill="#fff" stroke="#000" stroke-width="1"/>
<rect x="1215.5" y="89.5" width="4" height="22" fill="#fff" stroke="#000" stroke-width="1"/>
<rect x="1223" y="89" width="5" height="4" fill="#000"/>
<rect x="1231" y="91" width="5" height="7" fill="#000"/>
<rect x="1239" y="89" width="5" height="1" fill="#000"/>
<rect x="1247.5" y="83.5" width="4" height="6" fill="#fff" stroke="#000" stroke-width="1"/>
<rect x="1255" y="83" width="5" height="11" fill="#000"/>
<rect x="1263.5" y="86.5" width="4" height="7" fill="#fff" stroke="#000" stroke-width="1"/>
<rect x="1271" y="85" width="5" height="16" fill="#000"/>
<rect x="1279.5" y="90.5" width="4" height="9" fill="#fff" stroke="#000" stroke-width="1"/>
<rect x="1287" y="90" width="5" height="4" fill="#000"/>
<rect x="1295" y="92" width="5" height="15" fill="#000"/>
<rect x="1303" y="106" width="5" height="11" fill="#000"/>
<rect x="1311.5" y="102.5" width="4" height="15" fill="#fff" stroke="#000" stroke-width="1"/>
<rect x="1319.5" y="94.5" width="4" height="8" fill="#fff" stroke="#000" stroke-width="1"/>
<rect x="1327.5" y="88.5" width="4" height="5" fill="#fff" stroke="#000" stroke-width="1"/>
<rect x="1335.5" y="69.5" width="4" height="19" fill="#fff" stroke="#000" stroke-width="1"/>
<rect x="1343" y="70" width="5" height="4" fill="#000"/>
<rect x="1351" y="72" width="5" height="17" fill="#000"/>
<rect x="1359.5" y="82.5" width="4" height="5" fill="#fff" stroke="#000" stroke-width="1"/>
<rect x="1367" y="83" width="5" height="16" fill="#000"/>
<rect x="1375.5" y="95.5" width="4" height="2" fill="#fff" stroke="#000" stroke-width="1"/>
<rect x="1383.5" y="83.5" width="4" height="13" fill="#fff" stroke="#000" stroke-width="1"/>
<rect x="1391" y="85" width="5" height="18" fill="#000"/>
<rect x="1399" y="100" width="5" height="3" fill="#000"/>
<rect x="1407" y="102" width="5" height="5" fill="#000"/>
<rect x="1415" y="106" width="5" height="39" fill="#000"/>
<rect x="1423.5" y="117.5" width="4" height="26" fill="#fff" stroke="#000" stroke-width="1"/>
<rect x="1431" y="117" width="5" height="9" fill="#000"/>
</g>
<rect x="1323" y="102" width="188" height="8" fill="#00ff00"/><path d="M1350.0 61.0L1447.2 150.3" stroke="#f00" stroke-width="3.6" stroke-linecap="butt" shape-rendering="crispEdges"/><path d="M1453.5 156.0L1443.6 152.7L1449.4 146.4z" fill="#f00" shape-rendering="crispEdges"/><path d="M1439 29H1448L1443.5 34z" fill="#c0c0c0"/>
<path d="M1.5 708V717M9.5 708V717M17.5 708V718M25.5 708V717M33.5 708V717M41.5 708V717M49.5 708V715M57.5 708V712M65.5 708V710M73.5 708V710M81.5 708V710M89.5 708V709M97.5 707V709M105.5 707V709M113.5 705V709M121.5 708V712M129.5 708V717M137.5 708V720M145.5 708V723M153.5 708V729M161.5 708V737M169.5 708V740M177.5 708V742M185.5 708V743M193.5 708V746M201.5 708V746M209.5 708V745M217.5 708V739M225.5 708V734M233.5 708V729M241.5 708V723M249.5 708V716M257.5 708V710M265.5 705V709M273.5 703V709M281.5 700V709M289.5 698V709M297.5 700V709M305.5 705V709M313.5 708V712M321.5 708V717M329.5 708V721M337.5 708V720M345.5 708V719M353.5 708V722M361.5 708V726M369.5 708V731M377.5 708V735M385.5 708V732M393.5 708V731M401.5 708V728M409.5 708V724M417.5 708V718M425.5 708V712M433.5 707V709M441.5 701V709M449.5 696V709M457.5 689V709M465.5 682V709M473.5 676V709M481.5 671V709M489.5 666V709M497.5 661V709M505.5 655V709M513.5 649V709M521.5 646V709M529.5 648V709M537.5 646V709M545.5 641V709M553.5 639V709M561.5 638V709M569.5 639V709M577.5 635V709M585.5 633V709M593.5 629V709M601.5 629V709M609.5 627V709M617.5 626V709M625.5 627V709M633.5 631V709M641.5 634V709M649.5 629V709M657.5 624V709M665.5 622V709M673.5 622V709M681.5 623V709M689.5 623V709M697.5 632V709M705.5 644V709M713.5 650V709M721.5 662V709M729.5 669V709M737.5 677V709M745.5 687V709M753.5 694V709M761.5 701V709M769.5 705V709M777.5 706V709M785.5 708V709M793.5 708V714M801.5 708V717M809.5 708V719M817.5 708V717M825.5 708V717M833.5 708V714M841.5 708V709M849.5 703V709M857.5 699V709M865.5 693V709M873.5 688V709M881.5 689V709M889.5 691V709M897.5 692V709M905.5 693V709M913.5 693V709M921.5 695V709M929.5 697V709M937.5 695V709M945.5 693V709M953.5 690V709M961.5 684V709M969.5 679V709M977.5 678V709M985.5 671V709M993.5 665V709M1001.5 660V709M1009.5 649V709M1017.5 640V709M1025.5 631V709M1033.5 617V709M1041.5 608V709M1049.5 601V709M1057.5 599V709M1065.5 598V709M1073.5 597V709M1081.5 593V709M1089.5 593V709M1097.5 594V709M1105.5 598V709M1113.5 601V709M1121.5 604V709M1129.5 609V709M1137.5 618V709M1145.5 625V709M1153.5 628V709M1161.5 634V709M1169.5 639V709M1177.5 640V709M1185.5 641V709M1193.5 640V709M1201.5 637V709M1209.5 634V709M1217.5 628V709M1225.5 624V709M1233.5 624V709M1241.5 623V709M1249.5 622V709M1257.5 624V709M1265.5 625V709M1273.5 630V709M1281.5 632V709M1289.5 636V709M1297.5 642V709M1305.5 649V709M1313.5 653V709M1321.5 655V709M1329.5 656V709M1337.5 654V709M1345.5 654V709M1353.5 657V709M1361.5 659V709M1369.5 664V709M1377.5 668V709M1385.5 669V709M1393.5 674V709M1401.5 679V709M1409.5 683V709M1417.5 694V709M1425.5 697V709M1433.5 702V709" stroke="#c0c0c0" stroke-width="1" fill="none" shape-rendering="crispEdges"/>
<polyline points="-6.5,698.5 1.5,702.5 9.5,704.5 17.5,708.5 25.5,711.5 33.5,713.5 41.5,716.5 49.5,716.5 57.5,716.5 65.5,715.5 73.5,714.5 81.5,713.5 89.5,712.5 97.5,711.5 105.5,710.5 113.5,709.5 121.5,708.5 129.5,709.5 137.5,710.5 145.5,711.5 153.5,714.5 161.5,717.5 169.5,720.5 177.5,724.5 185.5,728.5 193.5,732.5 201.5,735.5 209.5,738.5 217.5,740.5 225.5,740.5 233.5,739.5 241.5,738.5 249.5,735.5 257.5,731.5 265.5,727.5 273.5,722.5 281.5,717.5 289.5,713.5 297.5,709.5 305.5,706.5 313.5,705.5 321.5,705.5 329.5,706.5 337.5,708.5 345.5,710.5 353.5,712.5 361.5,715.5 369.5,718.5 377.5,721.5 385.5,724.5 393.5,725.5 401.5,726.5 409.5,727.5 417.5,726.5 425.5,725.5 433.5,723.5 441.5,720.5 449.5,716.5 457.5,711.5 465.5,706.5 473.5,700.5 481.5,695.5 489.5,689.5 497.5,683.5 505.5,677.5 513.5,672.5 521.5,666.5 529.5,662.5 537.5,658.5 545.5,654.5 553.5,650.5 561.5,647.5 569.5,645.5 577.5,642.5 585.5,641.5 593.5,639.5 601.5,637.5 609.5,635.5 617.5,633.5 625.5,631.5 633.5,631.5 641.5,630.5 649.5,630.5 657.5,628.5 665.5,628.5 673.5,627.5 681.5,626.5 689.5,626.5 697.5,627.5 705.5,628.5 713.5,630.5 721.5,634.5 729.5,639.5 737.5,645.5 745.5,652.5 753.5,660.5 761.5,668.5 769.5,677.5 777.5,683.5 785.5,690.5 793.5,696.5 801.5,701.5 809.5,705.5 817.5,708.5 825.5,711.5 833.5,712.5 841.5,713.5 849.5,712.5 857.5,711.5 865.5,709.5 873.5,706.5 881.5,703.5 889.5,700.5 897.5,697.5 905.5,695.5 913.5,694.5 921.5,693.5 929.5,692.5 937.5,693.5 945.5,693.5 953.5,693.5 961.5,692.5 969.5,691.5 977.5,689.5 985.5,687.5 993.5,684.5 1001.5,679.5 1009.5,674.5 1017.5,669.5 1025.5,662.5 1033.5,655.5 1041.5,647.5 1049.5,638.5 1057.5,630.5 1065.5,623.5 1073.5,616.5 1081.5,610.5 1089.5,604.5 1097.5,600.5 1105.5,598.5 1113.5,597.5 1121.5,598.5 1129.5,599.5 1137.5,601.5 1145.5,604.5 1153.5,608.5 1161.5,612.5 1169.5,617.5 1177.5,622.5 1185.5,627.5 1193.5,630.5 1201.5,634.5 1209.5,635.5 1217.5,636.5 1225.5,635.5 1233.5,634.5 1241.5,632.5 1249.5,630.5 1257.5,628.5 1265.5,627.5 1273.5,626.5 1281.5,626.5 1289.5,627.5 1297.5,629.5 1305.5,631.5 1313.5,635.5 1321.5,638.5 1329.5,642.5 1337.5,645.5 1345.5,648.5 1353.5,651.5 1361.5,653.5 1369.5,656.5 1377.5,658.5 1385.5,660.5 1393.5,662.5 1401.5,664.5 1409.5,667.5 1417.5,672.5 1425.5,676.5 1433.5,681.5" fill="none" stroke="#f00" stroke-width="1" stroke-dasharray="3 3" shape-rendering="crispEdges"/>
<g shape-rendering="crispEdges" stroke="#c0c0c0" stroke-dasharray="3 3" stroke-dashoffset="2" stroke-width="1">
<path d="M0 791.5H1644"/>
<path d="M0 842.5H1644"/>
<path d="M0 903.5H1644"/>
</g>
<polyline points="-6.5,860.5 1.5,853.5 9.5,847.5 17.5,853.5 25.5,846.5 33.5,850.5 41.5,847.5 49.5,843.5 57.5,832.5 65.5,833.5 73.5,845.5 81.5,840.5 89.5,841.5 97.5,835.5 105.5,841.5 113.5,831.5 121.5,865.5 129.5,865.5 137.5,859.5 145.5,865.5 153.5,873.5 161.5,881.5 169.5,867.5 177.5,869.5 185.5,867.5 193.5,872.5 201.5,865.5 209.5,862.5 217.5,842.5 225.5,840.5 233.5,840.5 241.5,831.5 249.5,825.5 257.5,823.5 265.5,827.5 273.5,829.5 281.5,826.5 289.5,829.5 297.5,843.5 305.5,859.5 313.5,862.5 321.5,867.5 329.5,861.5 337.5,846.5 345.5,847.5 353.5,860.5 361.5,863.5 369.5,869.5 377.5,871.5 385.5,848.5 393.5,850.5 401.5,844.5 409.5,840.5 417.5,830.5 425.5,828.5 433.5,829.5 441.5,822.5 449.5,818.5 457.5,812.5 465.5,808.5 473.5,806.5 481.5,803.5 489.5,801.5 497.5,799.5 505.5,793.5 513.5,791.5 521.5,794.5 529.5,813.5 537.5,805.5 545.5,797.5 553.5,803.5 561.5,802.5 569.5,805.5 577.5,797.5 585.5,797.5 593.5,792.5 601.5,801.5 609.5,797.5 617.5,796.5 625.5,804.5 633.5,815.5 641.5,811.5 649.5,798.5 657.5,795.5 665.5,798.5 673.5,800.5 681.5,803.5 689.5,799.5 697.5,831.5 705.5,841.5 713.5,834.5 721.5,847.5 729.5,843.5 737.5,847.5 745.5,854.5 753.5,850.5 761.5,854.5 769.5,848.5 777.5,844.5 785.5,848.5 793.5,853.5 801.5,854.5 809.5,852.5 817.5,841.5 825.5,845.5 833.5,838.5 841.5,830.5 849.5,828.5 857.5,826.5 865.5,820.5 873.5,819.5 881.5,837.5 889.5,839.5 897.5,837.5 905.5,835.5 913.5,835.5 921.5,843.5 929.5,840.5 937.5,831.5 945.5,826.5 953.5,823.5 961.5,815.5 969.5,810.5 977.5,826.5 985.5,811.5 993.5,810.5 1001.5,808.5 1009.5,797.5 1017.5,795.5 1025.5,792.5 1033.5,785.5 1041.5,786.5 1049.5,785.5 1057.5,793.5 1065.5,793.5 1073.5,791.5 1081.5,786.5 1089.5,793.5 1097.5,796.5 1105.5,802.5 1113.5,799.5 1121.5,802.5 1129.5,806.5 1137.5,823.5 1145.5,820.5 1153.5,812.5 1161.5,824.5 1169.5,822.5 1177.5,816.5 1185.5,814.5 1193.5,808.5 1201.5,805.5 1209.5,800.5 1217.5,795.5 1225.5,797.5 1233.5,801.5 1241.5,799.5 1249.5,797.5 1257.5,806.5 1265.5,803.5 1273.5,815.5 1281.5,811.5 1289.5,814.5 1297.5,824.5 1305.5,832.5 1313.5,824.5 1321.5,821.5 1329.5,818.5 1337.5,810.5 1345.5,813.5 1353.5,825.5 1361.5,822.5 1369.5,833.5 1377.5,832.5 1385.5,825.5 1393.5,838.5 1401.5,838.5 1409.5,841.5 1417.5,862.5 1425.5,846.5 1433.5,850.5" fill="none" stroke="#1e90ff" stroke-width="1" shape-rendering="crispEdges"/>
<path d="M1326.5 646.0L1426.9 696.0" stroke="#f00" stroke-width="3.2" stroke-linecap="butt" shape-rendering="crispEdges"/><path d="M1435.0 700.0L1424.1 699.4L1428.0 691.7z" fill="#f00" shape-rendering="crispEdges"/><path d="M1325.0 805.0L1421.9 851.4" stroke="#f00" stroke-width="3.8" stroke-linecap="butt" shape-rendering="crispEdges"/><path d="M1430.0 855.3L1419.0 855.1L1423.0 846.8z" fill="#f00" shape-rendering="crispEdges"/>
<text x="1650.8" y="54.0" font-size="9.4" fill="#000" textLength="32.0" lengthAdjust="spacingAndGlyphs" >114.750</text><text x="1650.8" y="120.0" font-size="9.4" fill="#000" textLength="32.0" lengthAdjust="spacingAndGlyphs" >114.030</text><text x="1650.8" y="186.0" font-size="9.4" fill="#000" textLength="32.0" lengthAdjust="spacingAndGlyphs" >113.310</text><text x="1650.8" y="219.0" font-size="9.4" fill="#000" textLength="32.0" lengthAdjust="spacingAndGlyphs" >112.950</text><text x="1650.8" y="252.0" font-size="9.4" fill="#000" textLength="32.0" lengthAdjust="spacingAndGlyphs" >112.590</text><text x="1650.8" y="285.0" font-size="9.4" fill="#000" textLength="32.0" lengthAdjust="spacingAndGlyphs" >112.230</text><text x="1650.8" y="318.0" font-size="9.4" fill="#000" textLength="32.0" lengthAdjust="spacingAndGlyphs" >111.870</text><text x="1650.8" y="351.0" font-size="9.4" fill="#000" textLength="32.0" lengthAdjust="spacingAndGlyphs" >111.510</text><text x="1650.8" y="384.0" font-size="9.4" fill="#000" textLength="32.0" lengthAdjust="spacingAndGlyphs" >111.150</text><text x="1650.8" y="417.0" font-size="9.4" fill="#000" textLength="32.0" lengthAdjust="spacingAndGlyphs" >110.790</text><text x="1650.8" y="450.0" font-size="9.4" fill="#000" textLength="32.0" lengthAdjust="spacingAndGlyphs" >110.430</text><text x="1650.8" y="483.0" font-size="9.4" fill="#000" textLength="32.0" lengthAdjust="spacingAndGlyphs" >110.070</text><text x="1650.8" y="516.0" font-size="9.4" fill="#000" textLength="32.0" lengthAdjust="spacingAndGlyphs" >109.710</text><text x="1650.8" y="549.0" font-size="9.4" fill="#000" textLength="32.0" lengthAdjust="spacingAndGlyphs" >109.350</text><text x="1650.8" y="582.0" font-size="9.4" fill="#000" textLength="32.0" lengthAdjust="spacingAndGlyphs" >108.990</text><text x="1648.0" y="594.5" font-size="9.4" fill="#000" textLength="27.5" lengthAdjust="spacingAndGlyphs" >0.5828</text><text x="1648.0" y="711.7" font-size="9.4" fill="#000" textLength="17.8" lengthAdjust="spacingAndGlyphs" >0.00</text><text x="1648.0" y="749.7" font-size="9.4" fill="#000" textLength="30.5" lengthAdjust="spacingAndGlyphs" >-0.2114</text><text x="1648.4" y="766.0" font-size="9.4" fill="#000" textLength="14.5" lengthAdjust="spacingAndGlyphs" >100</text><text x="1647.2" y="795.0" font-size="9.4" fill="#000" textLength="9.5" lengthAdjust="spacingAndGlyphs" >80</text><text x="1647.2" y="846.3" font-size="9.4" fill="#000" textLength="9.5" lengthAdjust="spacingAndGlyphs" >50</text><text x="1647.7" y="907.0" font-size="9.4" fill="#000" textLength="9.4" lengthAdjust="spacingAndGlyphs" >15</text><text x="1648.0" y="926.0" font-size="9.4" fill="#000" textLength="5.0" lengthAdjust="spacingAndGlyphs" >0</text><path d="M1645 83.5h2M1645 149.5h2M1645 50.5h2M1645 116.5h2M1645 182.5h2M1645 215.5h2M1645 248.5h2M1645 281.5h2M1645 314.5h2M1645 347.5h2M1645 380.5h2M1645 413.5h2M1645 446.5h2M1645 479.5h2M1645 512.5h2M1645 545.5h2M1645 578.5h2M1645 708.5h2M1645 585.5h1M1645 757.5h1M1645 791.5h1M1645 842.5h1M1645 902.5h1" stroke="#000" stroke-width="1" shape-rendering="crispEdges"/><text x="48.6" y="942.0" font-size="9.4" fill="#000" textLength="54.0" lengthAdjust="spacingAndGlyphs" >13 Sep 00:00</text><text x="112.6" y="942.0" font-size="9.4" fill="#000" textLength="54.0" lengthAdjust="spacingAndGlyphs" >14 Sep 08:00</text><text x="176.6" y="942.0" font-size="9.4" fill="#000" textLength="54.0" lengthAdjust="spacingAndGlyphs" >15 Sep 16:00</text><text x="240.6" y="942.0" font-size="9.4" fill="#000" textLength="54.0" lengthAdjust="spacingAndGlyphs" >17 Sep 00:00</text><text x="304.6" y="942.0" font-size="9.4" fill="#000" textLength="54.0" lengthAdjust="spacingAndGlyphs" >20 Sep 08:00</text><text x="368.6" y="942.0" font-size="9.4" fill="#000" textLength="54.0" lengthAdjust="spacingAndGlyphs" >21 Sep 16:00</text><text x="432.6" y="942.0" font-size="9.4" fill="#000" textLength="54.0" lengthAdjust="spacingAndGlyphs" >23 Sep 00:00</text><text x="496.6" y="942.0" font-size="9.4" fill="#000" textLength="54.0" lengthAdjust="spacingAndGlyphs" >24 Sep 08:00</text><text x="560.6" y="942.0" font-size="9.4" fill="#000" textLength="54.0" lengthAdjust="spacingAndGlyphs" >27 Sep 16:00</text><text x="624.6" y="942.0" font-size="9.4" fill="#000" textLength="54.0" lengthAdjust="spacingAndGlyphs" >29 Sep 00:00</text><text x="688.6" y="942.0" font-size="9.4" fill="#000" textLength="54.0" lengthAdjust="spacingAndGlyphs" >30 Sep 08:00</text><text x="752.6" y="942.0" font-size="9.4" fill="#000" textLength="49.0" lengthAdjust="spacingAndGlyphs" >1 Oct 16:00</text><text x="816.6" y="942.0" font-size="9.4" fill="#000" textLength="49.0" lengthAdjust="spacingAndGlyphs" >5 Oct 00:00</text><text x="880.6" y="942.0" font-size="9.4" fill="#000" textLength="49.0" lengthAdjust="spacingAndGlyphs" >6 Oct 08:00</text><text x="944.6" y="942.0" font-size="9.4" fill="#000" textLength="49.0" lengthAdjust="spacingAndGlyphs" >7 Oct 16:00</text><text x="1008.6" y="942.0" font-size="9.4" fill="#000" textLength="54.0" lengthAdjust="spacingAndGlyphs" >11 Oct 00:00</text><text x="1072.6" y="942.0" font-size="9.4" fill="#000" textLength="54.0" lengthAdjust="spacingAndGlyphs" >12 Oct 08:00</text><text x="1136.6" y="942.0" font-size="9.4" fill="#000" textLength="54.0" lengthAdjust="spacingAndGlyphs" >13 Oct 16:00</text><text x="1200.6" y="942.0" font-size="9.4" fill="#000" textLength="54.0" lengthAdjust="spacingAndGlyphs" >15 Oct 00:00</text><text x="1264.6" y="942.0" font-size="9.4" fill="#000" textLength="54.0" lengthAdjust="spacingAndGlyphs" >18 Oct 08:00</text><text x="1328.6" y="942.0" font-size="9.4" fill="#000" textLength="54.0" lengthAdjust="spacingAndGlyphs" >19 Oct 16:00</text><text x="1392.6" y="942.0" font-size="9.4" fill="#000" textLength="54.0" lengthAdjust="spacingAndGlyphs" >21 Oct 00:00</text><path d="M49.5 930v3M113.5 930v3M177.5 930v3M241.5 930v3M305.5 930v3M369.5 930v3M433.5 930v3M497.5 930v3M561.5 930v3M625.5 930v3M689.5 930v3M753.5 930v3M817.5 930v3M881.5 930v3M945.5 930v3M1009.5 930v3M1073.5 930v3M1137.5 930v3M1201.5 930v3M1265.5 930v3M1329.5 930v3M1393.5 930v3" stroke="#000" stroke-width="1" shape-rendering="crispEdges"/><text x="30.5" y="942.0" font-size="9.4" fill="#000" textLength="50.0" lengthAdjust="spacingAndGlyphs" text-anchor="end" >10 Sep 2021</text><text x="0.0" y="40.0" font-size="10" fill="#000" textLength="200.5" lengthAdjust="spacingAndGlyphs" >USDJPY-,H4&#160;&#160;114.015 114.040 113.931 113.931</text><text x="-7.5" y="595.5" font-size="10" fill="#000" textLength="124.5" lengthAdjust="spacingAndGlyphs" >MACD(12,26,9) 0.0288 0.1262</text><text x="-11.5" y="767.5" font-size="10" fill="#000" textLength="68.0" lengthAdjust="spacingAndGlyphs" >RSI(14) 45.9207</text>
<rect x="1646" y="48" width="41" height="11" fill="#ff0000"/><text x="1650.6" y="57.4" font-size="9.4" fill="#fff" textLength="32.4" lengthAdjust="spacingAndGlyphs" >114.698</text><rect x="1646" y="76" width="41" height="11" fill="#ff0000"/><text x="1650.6" y="85.4" font-size="9.4" fill="#fff" textLength="32.4" lengthAdjust="spacingAndGlyphs" >114.393</text><rect x="1646" y="100" width="41" height="10" fill="#32cd32"/><text x="1650.6" y="108.4" font-size="9.4" fill="#fff" textLength="32.4" lengthAdjust="spacingAndGlyphs" >114.146</text><rect x="1646" y="120" width="41" height="11" fill="#000000"/><text x="1650.6" y="129.4" font-size="9.4" fill="#fff" textLength="32.4" lengthAdjust="spacingAndGlyphs" >113.931</text><rect x="1646" y="146" width="41" height="11" fill="#0000ff"/><text x="1650.6" y="155.4" font-size="9.4" fill="#fff" textLength="32.4" lengthAdjust="spacingAndGlyphs" >113.631</text><rect x="1646" y="172" width="41" height="11" fill="#0000ff"/><text x="1650.6" y="181.4" font-size="9.4" fill="#fff" textLength="32.4" lengthAdjust="spacingAndGlyphs" >113.348</text><rect x="1639.5" y="52.5" width="4" height="4" fill="#fff" stroke="#f00" stroke-width="1" shape-rendering="crispEdges"/><rect x="1639.5" y="80.5" width="4" height="4" fill="#fff" stroke="#f00" stroke-width="1" shape-rendering="crispEdges"/><rect x="1639.5" y="150.5" width="4" height="4" fill="#fff" stroke="#00f" stroke-width="1" shape-rendering="crispEdges"/><rect x="1639.5" y="176.5" width="4" height="4" fill="#fff" stroke="#00f" stroke-width="1" shape-rendering="crispEdges"/>
<defs><linearGradient id="gt" x1="0" y1="0" x2="0" y2="1"><stop offset="0" stop-color="#5a5af5"/><stop offset="1" stop-color="#4040e6"/></linearGradient><linearGradient id="gb" x1="0" y1="0" x2="0" y2="1"><stop offset="0" stop-color="#3a3ae6"/><stop offset="1" stop-color="#0000b4"/></linearGradient><linearGradient id="gbt" x1="0" y1="0" x2="0" y2="1"><stop offset="0" stop-color="#fafafa"/><stop offset="1" stop-color="#d6d6d6"/></linearGradient></defs><rect x="0" y="46" width="208" height="61" fill="#fff"/><rect x="0" y="48" width="40" height="24" fill="url(#gt)"/><rect x="0" y="72" width="97" height="33" fill="url(#gb)"/><rect x="0" y="71.6" width="36" height="0.8" fill="#8a8aff"/><rect x="155" y="48" width="52" height="24" fill="url(#gt)"/><rect x="99" y="72" width="108" height="33" fill="url(#gb)"/><rect x="159" y="71.6" width="44" height="0.8" fill="#8a8aff"/><rect x="42.5" y="48.5" width="112" height="21" fill="#fff" stroke="#b4b4b4"/><rect x="43" y="49" width="19.5" height="20" fill="url(#gbt)" stroke="#c8c8c8" stroke-width="0.8"/><rect x="131.5" y="49" width="21" height="20" fill="url(#gbt)" stroke="#c8c8c8" stroke-width="0.8"/><path d="M49.8 57h5.6l-2.8 3z" fill="#6078b8"/><path d="M138.6 60.2h5.6l-2.8 -3.2z" fill="#6078b8"/><text x="127.5" y="63" font-size="11.5" fill="#000" text-anchor="end" textLength="21.5" lengthAdjust="spacingAndGlyphs">1.00</text><text x="0.6" y="64" font-size="12.5" fill="#fff" textLength="25.5" lengthAdjust="spacingAndGlyphs">SELL</text><text x="168.3" y="64" font-size="12.5" fill="#fff" textLength="23.7" lengthAdjust="spacingAndGlyphs">BUY</text><text x="11.8" y="99.8" font-size="11" font-weight="bold" fill="#fff" textLength="19.9" lengthAdjust="spacingAndGlyphs">113</text><text x="35.5" y="100" font-size="33.5" fill="#fff" textLength="34" lengthAdjust="spacingAndGlyphs">93</text><text x="75.6" y="84" font-size="10.5" font-weight="bold" fill="#fff" textLength="6.4" lengthAdjust="spacingAndGlyphs">1</text><text x="121.7" y="99.8" font-size="11" font-weight="bold" fill="#fff" textLength="19.9" lengthAdjust="spacingAndGlyphs">114</text><text x="146" y="100" font-size="33.5" fill="#fff" textLength="34.7" lengthAdjust="spacingAndGlyphs">01</text><text x="186.3" y="84" font-size="10.5" font-weight="bold" fill="#fff" textLength="6.8" lengthAdjust="spacingAndGlyphs">9</text>
</svg></body></html>
